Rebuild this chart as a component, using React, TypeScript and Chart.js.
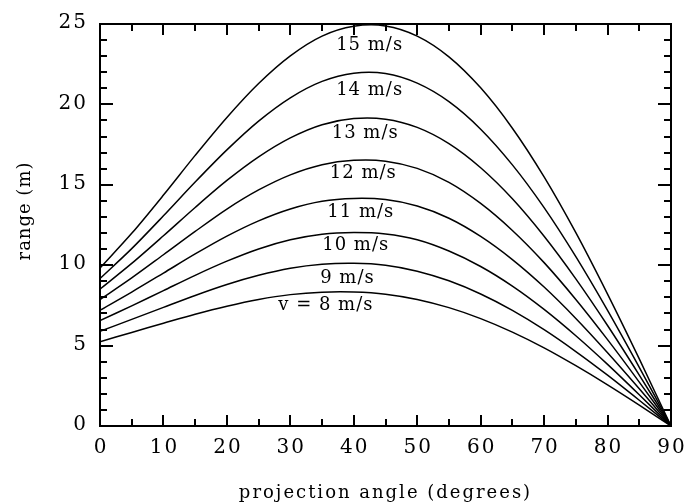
import React, { useEffect, useRef } from "react";
import { Chart, registerables } from "chart.js";
Chart.register(...registerables);

const angles = [0, 5, 10, 15, 20, 25, 30, 35, 40, 45, 50, 55, 60, 65, 70, 75, 80, 85, 90];
const range8 = [5.24, 5.82, 6.39, 6.95, 7.45, 7.87, 8.17, 8.32, 8.33, 8.2, 7.87, 7.36, 6.68, 5.84, 4.86, 3.75, 2.56, 1.3, 0];
const range9 = [5.89, 6.63, 7.38, 8.12, 8.8, 9.37, 9.81, 10.06, 10.12, 10.0, 9.63, 9.03, 8.21, 7.19, 5.99, 4.63, 3.16, 1.6, 0];
const range10 = [6.55, 7.47, 8.42, 9.37, 10.25, 11.01, 11.58, 11.93, 12.03, 11.94, 11.58, 10.88, 9.92, 8.7, 7.25, 5.61, 3.83, 1.94, 0];
const range11 = [7.2, 8.33, 9.51, 10.7, 11.81, 12.76, 13.5, 13.98, 14.15, 14.08, 13.68, 12.92, 11.79, 10.35, 8.64, 6.69, 4.56, 2.32, 0];
const range12 = [7.86, 9.21, 10.65, 12.1, 13.49, 14.68, 15.62, 16.25, 16.52, 16.47, 16.02, 15.15, 13.84, 12.16, 10.16, 7.87, 5.37, 2.73, 0];
const range13 = [8.51, 10.11, 11.83, 13.59, 15.27, 16.74, 17.92, 18.74, 19.12, 19.08, 18.57, 17.56, 16.06, 14.13, 11.8, 9.15, 6.25, 3.17, 0];
const range14 = [9.17, 11.03, 13.07, 15.17, 17.17, 18.96, 20.41, 21.43, 21.94, 21.92, 21.32, 20.17, 18.46, 16.24, 13.58, 10.53, 7.19, 3.65, 0];
const range15 = [9.82, 11.98, 14.36, 16.83, 19.19, 21.3, 23.02, 24.25, 24.86, 24.88, 24.25, 22.96, 21.03, 18.52, 15.49, 12.02, 8.2, 4.17, 0];

const seriesValues = [range8, range9, range10, range11, range12, range13, range14, range15];
const seriesNames = ["v = 8 m/s", "9 m/s", "10 m/s", "11 m/s", "12 m/s", "13 m/s", "14 m/s", "15 m/s"];
const labelAngles = [35.6, 39, 40.3, 41.1, 41.5, 41.8, 42.5, 42.5];
const labelValues = [7.53, 9.2, 11.25, 13.3, 15.7, 18.2, 20.9, 23.7];

const xTickLabels = [0, 10, 20, 30, 40, 50, 60, 70, 80, 90];
const yTickLabels = [0, 5, 10, 15, 20, 25];
const xTitle = "projection angle (degrees)";
const yTitle = "range (m)";

const FONT = '"DejaVu Serif", serif';

const framePlugin = {
  id: "frame",
  afterDraw(chart: any) {
    const ctx = chart.ctx as CanvasRenderingContext2D;
    const { left, right, top, bottom } = chart.chartArea;
    const xs = chart.scales.x;
    const ys = chart.scales.y;
    ctx.save();
    ctx.strokeStyle = "#000";
    ctx.lineWidth = 2;
    ctx.strokeRect(left, top, right - left, bottom - top);
    const line = (x1: number, y1: number, x2: number, y2: number) => {
      ctx.beginPath();
      ctx.moveTo(x1, y1);
      ctx.lineTo(x2, y2);
      ctx.stroke();
    };
    for (let v = 5; v < 90; v += 5) {
      const px = Math.round(xs.getPixelForValue(v));
      const len = v % 10 === 0 ? 11 : 7;
      line(px, bottom, px, bottom - len);
      line(px, top, px, top + len);
    }
    for (let v = 1; v < 25; v += 1) {
      const py = Math.round(ys.getPixelForValue(v));
      const len = v % 5 === 0 ? 13 : 7;
      line(left, py, left + len, py);
      line(right, py, right - len, py);
    }
    ctx.fillStyle = "#000";
    (ctx as any).letterSpacing = "2px";
    ctx.font = `20px ${FONT}`;
    ctx.textAlign = "right";
    ctx.textBaseline = "middle";
    yTickLabels.forEach((v) => {
      ctx.fillText(String(v), left - 12, ys.getPixelForValue(v) - 1);
    });
    ctx.textAlign = "center";
    ctx.textBaseline = "top";
    xTickLabels.forEach((v) => {
      ctx.fillText(String(v), xs.getPixelForValue(v) + 1, bottom + 12);
    });
    ctx.font = `18px ${FONT}`;
    (ctx as any).letterSpacing = "2px";
    ctx.textBaseline = "alphabetic";
    ctx.fillText(xTitle, (left + right) / 2, 498);
    ctx.save();
    (ctx as any).letterSpacing = "1px";
    ctx.translate(25, 211);
    ctx.rotate(-Math.PI / 2);
    ctx.textBaseline = "middle";
    ctx.fillText(yTitle, 0, 0);
    ctx.restore();
    ctx.font = `18px ${FONT}`;
    (ctx as any).letterSpacing = "1px";
    ctx.textAlign = "center";
    ctx.textBaseline = "middle";
    seriesNames.forEach((name, i) => {
      ctx.fillText(name, xs.getPixelForValue(labelAngles[i]), ys.getPixelForValue(labelValues[i]));
    });
    ctx.restore();
  },
};

export default function App() {
  const ref = useRef<HTMLCanvasElement | null>(null);
  useEffect(() => {
    if (!ref.current) return;
    const chart = new Chart(ref.current, {
      type: "line",
      data: {
        datasets: seriesValues.map((vals, i) => ({
          label: seriesNames[i],
          data: angles.map((a, j) => ({ x: a, y: vals[j] })),
          borderColor: "#000",
          borderWidth: 1.5,
          pointRadius: 0,
          fill: false,
          tension: 0.3,
        })),
      },
      options: {
        animation: false,
        responsive: false,
        layout: { padding: { left: 100, right: 25, top: 24, bottom: 78 } },
        plugins: { legend: { display: false }, tooltip: { enabled: false } },
        scales: {
          x: { type: "linear", min: 0, max: 90, display: false },
          y: { type: "linear", min: 0, max: 25, display: false },
        },
      },
      plugins: [framePlugin],
    });
    return () => chart.destroy();
  }, []);
  return (
    <div style={{ position: "fixed", left: 0, top: 0, width: 696, height: 504, background: "#fff" }}>
      <canvas ref={ref} width={696} height={504} style={{ display: "block" }} />
    </div>
  );
}
